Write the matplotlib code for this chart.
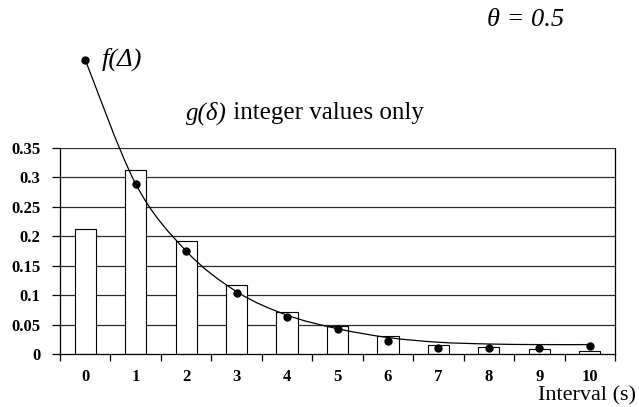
import matplotlib
matplotlib.use("Agg")
import matplotlib.pyplot as plt
from matplotlib.path import Path
from matplotlib.patches import PathPatch

# interval (s) and distributions for theta = 0.5
intervals = list(range(11))
g_delta = [0.213, 0.312, 0.192, 0.117, 0.072, 0.047, 0.030, 0.016, 0.012, 0.009, 0.005]
f_points = [0.5, 0.289, 0.175, 0.104, 0.063, 0.042, 0.022, 0.010, 0.010, 0.011, 0.013]
f_curve = [0.5, 0.289, 0.175, 0.106, 0.066, 0.043, 0.028, 0.020, 0.017, 0.016, 0.016]
y_ticks = [0, 0.05, 0.1, 0.15, 0.2, 0.25, 0.3, 0.35]
y_labels = ["0", "0.05", "0.1", "0.15", "0.2", "0.25", "0.3", "0.35"]

SERIF = "Liberation Serif"


def smooth_path(xs, ys):
    """Catmull-Rom style smoothed path through the points (like a smoothed line)."""
    verts = [(xs[0], ys[0])]
    codes = [Path.MOVETO]
    n = len(xs)
    for i in range(n - 1):
        x0, y0 = (xs[i - 1], ys[i - 1]) if i > 0 else (xs[i], ys[i])
        x1, y1 = xs[i], ys[i]
        x2, y2 = xs[i + 1], ys[i + 1]
        x3, y3 = (xs[i + 2], ys[i + 2]) if i + 2 < n else (x2, y2)
        c1 = (x1 + (x2 - x0) / 6.0, y1 + (y2 - y0) / 6.0)
        c2 = (x2 - (x3 - x1) / 6.0, y2 - (y3 - y1) / 6.0)
        verts += [c1, c2, (x2, y2)]
        codes += [Path.CURVE4] * 3
    return Path(verts, codes)


fig = plt.figure(figsize=(6.39, 4.07), dpi=100)
ax = fig.add_axes([60 / 639, 53 / 407, 555 / 639, 206 / 407])

# horizontal grid
for yv in y_ticks[1:]:
    ax.axhline(yv, color="#2a2a2a", lw=0.9, zorder=1)

ax.bar(intervals, g_delta, width=0.42, facecolor="white", edgecolor="black",
       linewidth=0.8, zorder=2)

curve = PathPatch(smooth_path(intervals, f_curve), facecolor="none",
                  edgecolor="black", lw=0.9, zorder=3, clip_on=False)
ax.add_patch(curve)
ax.plot(intervals, f_points, "o", color="black", markersize=5, zorder=4,
        clip_on=False)

ax.set_xlim(-0.5, 10.5)
ax.set_ylim(0, 0.35)

ax.set_yticks(y_ticks)
ax.set_yticklabels(y_labels, fontfamily=SERIF, fontweight="bold", fontsize=12)
ax.set_xticks(intervals)
ax.set_xticklabels([str(i) for i in intervals], fontfamily=SERIF,
                   fontweight="bold", fontsize=12)
ax.set_xticks([i + 0.5 for i in range(-1, 11)], minor=True)
ax.tick_params(axis="x", which="major", length=0, pad=11)
ax.tick_params(axis="x", which="minor", length=5, width=0.9, direction="out")
ax.tick_params(axis="y", length=6, width=0.9, direction="out", pad=8)

ax.spines["top"].set_visible(False)
for s in ["left", "bottom", "right"]:
    ax.spines[s].set_linewidth(0.9)
    ax.spines[s].set_color("black")

fig.text(0.996, 1 - 396 / 407, "Interval (s)", fontfamily=SERIF, fontsize=16,
         ha="right", va="center")
fig.text(487 / 639, 1 - 20 / 407, "θ = 0.5", fontfamily=SERIF, fontsize=19,
         style="italic", va="center")
ax.annotate("f(Δ)", xy=(0, 0.5), xytext=(12, 0), textcoords="offset points",
            fontfamily=SERIF, fontsize=19, style="italic", va="center",
            annotation_clip=False)
t1 = fig.text(186 / 639, 1 - 113 / 407, "g(δ)", fontfamily=SERIF, fontsize=18,
              style="italic", va="center")
fig.canvas.draw()
bb = t1.get_window_extent().transformed(fig.transFigure.inverted())
fig.text(bb.x1, 1 - 113 / 407, " integer values only", fontfamily=SERIF,
         fontsize=18, va="center")

fig.savefig("out.png", dpi=100, facecolor="white")
